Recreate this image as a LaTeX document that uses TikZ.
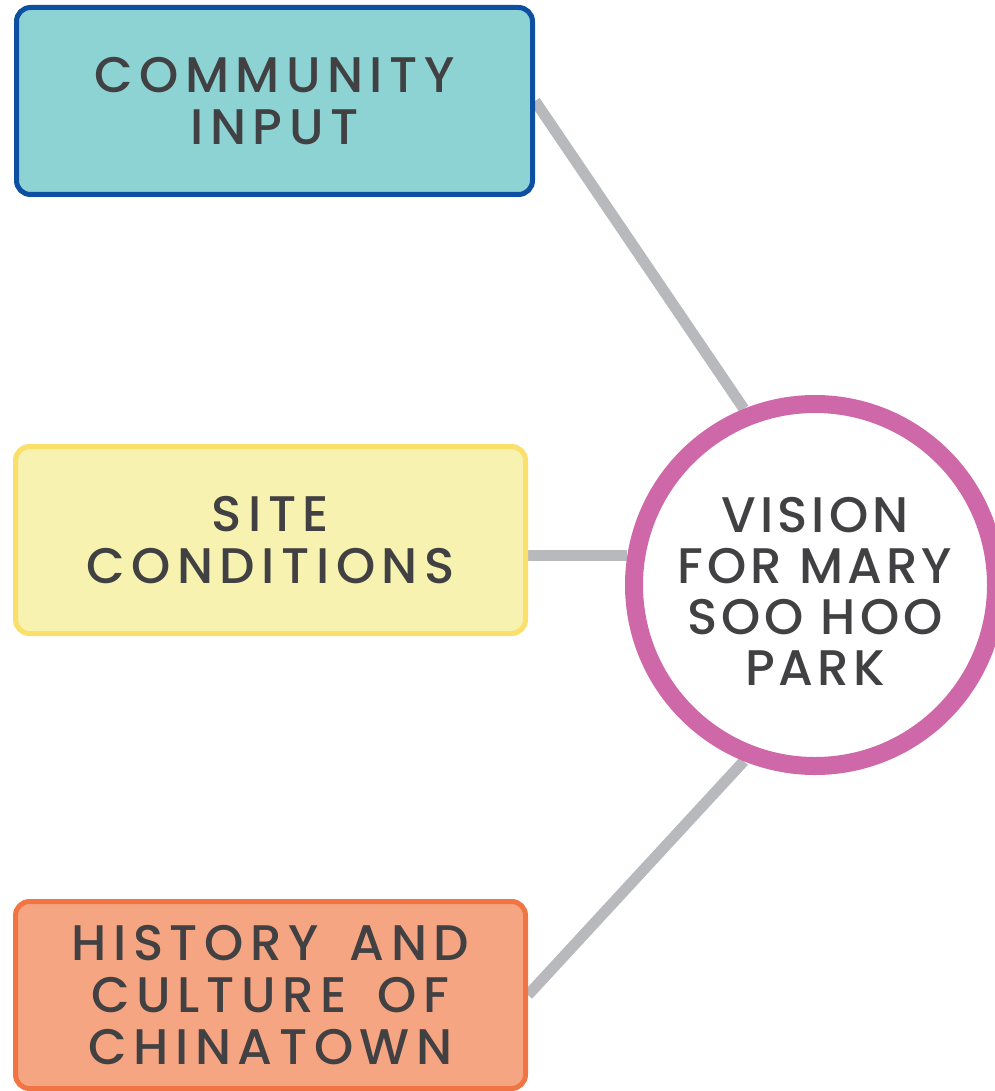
\documentclass[tikz,border=0pt]{standalone}
\usepackage{fontspec}
\setmainfont{Poppins}
\newfontfamily\capsfont[LetterSpace=13, UprightFont={* Medium}, WordSpace=1.6]{Poppins}
\newfontfamily\ringfont[LetterSpace=8, UprightFont={* Medium}]{Poppins}
\usetikzlibrary{backgrounds}
\definecolor{inkgrey}{HTML}{414042}
\definecolor{wiregrey}{HTML}{B8B9BC}
\definecolor{tealfill}{HTML}{8DD3D3}
\definecolor{tealline}{HTML}{0D4FA0}
\definecolor{lemonfill}{HTML}{F8F2B0}
\definecolor{lemonline}{HTML}{FADF6B}
\definecolor{peachfill}{HTML}{F6A582}
\definecolor{peachline}{HTML}{F07543}
\definecolor{ringpink}{HTML}{CF68A9}

\begin{document}
\begin{tikzpicture}[x=1pt,y=-1pt]
	\tikzstyle{card}=[rectangle, rounded corners=14pt, line width=5pt,
		minimum width=516pt, minimum height=187pt, align=center,
		text=inkgrey, font=\capsfont\fontsize{50}{52}\selectfont]
	\tikzstyle{wire}=[wiregrey, line width=11pt]
	\useasboundingbox (0,0) rectangle (994,1091);
	\node [card, draw=tealline, fill=tealfill] (input) at (274.5,101) {COMMUNITY\\INPUT};
	\node [card, draw=lemonline, fill=lemonfill, minimum width=510pt] (site) at (270.5,540) {SITE\\CONDITIONS};
	\node [card, draw=peachline, fill=peachfill, minimum width=510pt] (history) at (270.5,995) {HISTORY AND\\CULTURE OF\\CHINATOWN};
	\node [circle, draw=ringpink, fill=white, line width=18pt, minimum size=362pt,
		align=center, text=inkgrey, text height=200pt, font=\ringfont\fontsize{50}{51}\selectfont] (vision) at (815,585) {VISION\\FOR MARY\\SOO HOO\\PARK};
	\begin{scope}[on background layer]
		\draw [wire] (input.east) -- (vision.112);
		\draw [wire] (vision.171.5) -- (vision.171.5 -| site.east);
		\draw [wire] (history.east) -- (vision.-112);
	\end{scope}
\end{tikzpicture}
\end{document}
